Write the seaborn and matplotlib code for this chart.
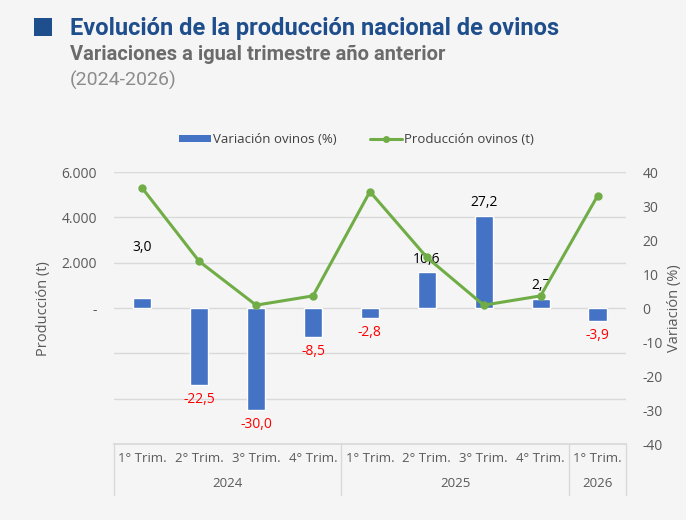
import matplotlib
matplotlib.use('Agg')
import matplotlib.pyplot as plt
import matplotlib.transforms as mtransforms
from matplotlib.patches import Patch, Rectangle
from matplotlib.lines import Line2D
import seaborn as sns
import pandas as pd

# Data
trimestres = ['1° Trim.', '2° Trim.', '3° Trim.', '4° Trim.',
              '1° Trim.', '2° Trim.', '3° Trim.', '4° Trim.', '1° Trim.']
anios = ['2024', '2025', '2026']
anio_n = [4, 4, 1]
variacion = [3.0, -22.5, -30.0, -8.5, -2.8, 10.6, 27.2, 2.7, -3.9]
produccion = [5290, 2060, 130, 540, 5140, 2240, 130, 540, 4950]

df = pd.DataFrame({'pos': range(len(variacion)), 'variacion': variacion,
                   'produccion': produccion})

bg = '#f5f5f5'
sns.set_theme(style='white')
plt.rcParams['font.family'] = ['Open Sans', 'DejaVu Sans']
plt.rcParams['axes.unicode_minus'] = False

fig = plt.figure(figsize=(6.86, 5.2), dpi=100, facecolor=bg)
ax = fig.add_axes([0.166, 0.146, 0.7465, 0.523], facecolor=bg)

# Bars on percent axis (right)
sns.barplot(data=df, x='pos', y='variacion', color='#4472c4', width=0.32,
            saturation=1, ax=ax, zorder=2)
ax.set_ylim(-40, 40)
ax.set_yticks(range(-40, 41, 10))
ax.set_xlabel('')
ax.set_xticks([])
ax.set_xlim(-0.5, len(variacion) - 0.5)

# first label was lifted in the original chart
lift = {0: 27}
for i, v in enumerate(variacion):
    txt = f'{v:.1f}'.replace('.', ',')
    if v >= 0:
        ax.annotate(txt, (i, v), xytext=(0, 4 + lift.get(i, 0)),
                    textcoords='offset points', ha='center', va='bottom',
                    fontsize=10, color='black')
    else:
        ax.annotate(txt, (i, v), xytext=(0, -5), textcoords='offset points',
                    ha='center', va='top', fontsize=10, color='#ff0000')

# Production axis (left)
axl = ax.twinx()
axl.set_ylim(-6000, 6000)
axl.set_yticks(range(-4000, 6001, 2000))
axl.set_yticklabels(['', '', '-', '2.000', '4.000', '6.000'])
axl.yaxis.tick_left()
axl.yaxis.set_label_position('left')
axl.set_ylabel('Producción (t)', color='#595959', fontsize=10.5, labelpad=8)
axl.tick_params(axis='y', colors='#595959', labelsize=10, length=0, pad=12)
axl.grid(axis='y', color='#d9d9d9', linewidth=1)
axl.set_xlim(-0.5, len(variacion) - 0.5)
axl.set_xticks([])
for s in ['top', 'left', 'right', 'bottom']:
    axl.spines[s].set_visible(False)

# twinx moves ax ticks to the left, put them back right
ax.yaxis.tick_right()
ax.yaxis.set_label_position('right')
ax.tick_params(axis='y', colors='#595959', labelsize=10, length=0, pad=12)
for s in ['top', 'left', 'right']:
    ax.spines[s].set_visible(False)
ax.spines['bottom'].set_color('#d9d9d9')

# gridlines behind bars, line on top of bars
ax.set_zorder(axl.get_zorder() + 1)
ax.patch.set_visible(False)
axl.patch.set_facecolor(bg)
tr = mtransforms.blended_transform_factory(ax.transData, axl.transData)
sns.lineplot(x=df['pos'], y=df['produccion'], color='#70ad47', linewidth=2.2,
             marker='o', markersize=6, markeredgewidth=0, ax=ax,
             transform=tr, zorder=4)
ax.set_ylim(-40, 40)
ax.set_xlim(-0.5, len(variacion) - 0.5)
ax.set_xlabel('')
ax.set_xticks([])
ax.set_ylabel('Variación (%)', color='#595959', fontsize=10.5, labelpad=3)

# Two-level category axis
bt = mtransforms.blended_transform_factory(ax.transData, fig.transFigure)
y_top = 0.146
y_bot = 0.048
for i, t in enumerate(trimestres):
    ax.text(i, 0.119, t, transform=bt, ha='center', va='center',
            fontsize=9.5, color='#595959')
edges = [-0.5]
for n in anio_n:
    edges.append(edges[-1] + n)
for e in edges:
    ax.add_line(Line2D([e, e], [y_top, y_bot], transform=bt, color='#d9d9d9',
                       linewidth=1, clip_on=False))
for k, a in enumerate(anios):
    ax.text((edges[k] + edges[k + 1]) / 2, 0.071, a, transform=bt,
            ha='center', va='center', fontsize=9.5, color='#595959')

# Legend
handles = [Patch(facecolor='#4472c4', edgecolor='none'),
           Line2D([], [], color='#70ad47', linewidth=2.2, marker='o',
                  markersize=5, markeredgewidth=0)]
fig.legend(handles, ['Variación ovinos (%)', 'Producción ovinos (t)'],
           loc='center', bbox_to_anchor=(0.52, 0.731), ncol=2, frameon=False,
           fontsize=9.5, handlelength=2.4, handleheight=0.5, columnspacing=2.5,
           handletextpad=0.2, labelcolor='#404040')

# Titles
fig.patches.append(Rectangle((34 / 686, 1 - 36 / 520), 18 / 686, 18 / 520,
                             transform=fig.transFigure, facecolor='#1f4e8c',
                             edgecolor='none'))
fig.text(70 / 686, 1 - 28 / 520, 'Evolución de la producción nacional de ovinos',
         fontsize=17, fontweight='bold', color='#1f4e8c', va='center',
         family=['Roboto', 'DejaVu Sans'])
fig.text(70 / 686, 1 - 54 / 520, 'Variaciones a igual trimestre año anterior',
         fontsize=14.5, fontweight='bold', color='#6b6b6b', va='center',
         family=['Roboto', 'DejaVu Sans'])
fig.text(70 / 686, 1 - 80 / 520, '(2024-2026)', fontsize=14, color='#8c8c8c',
         va='center', family=['Roboto', 'DejaVu Sans'])

fig.savefig('out.png', dpi=100, facecolor=bg)
